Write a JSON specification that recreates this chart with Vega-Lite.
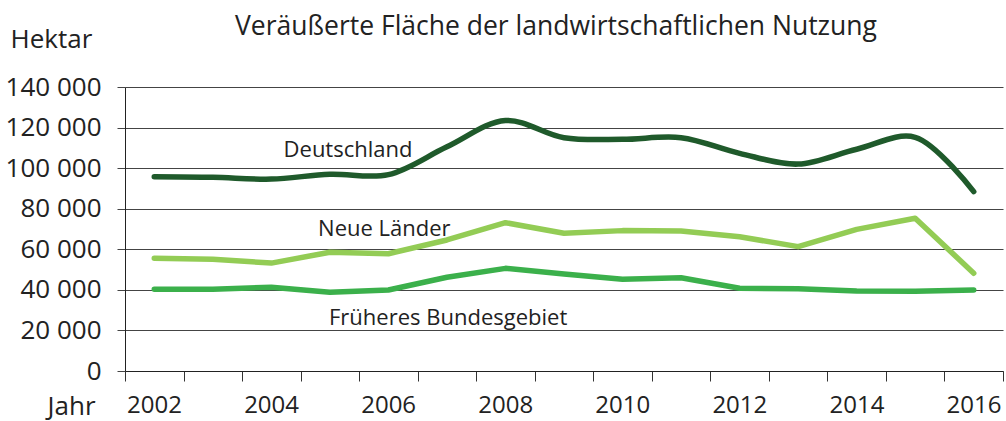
{
  "$schema": "https://vega.github.io/schema/vega-lite/v6.json",
  "width": 878,
  "height": 284,
  "autosize": {"type": "none"},
  "padding": {"left": 125, "top": 87, "right": 3, "bottom": 50},
  "background": "white",
  "config": {"view": {"stroke": null}, "font": "Open Sans"},
  "title": {
    "text": "Veräußerte Fläche der landwirtschaftlichen Nutzung",
    "anchor": "middle",
    "font": "Open Sans",
    "fontSize": 26.5,
    "fontWeight": "normal",
    "color": "#222222",
    "offset": -14,
    "dx": -8
  },
  "datasets": {
    "main": [
      {"year": 2002, "series": "Deutschland", "value": 95800},
      {"year": 2003, "series": "Deutschland", "value": 95500},
      {"year": 2004, "series": "Deutschland", "value": 94600},
      {"year": 2005, "series": "Deutschland", "value": 97000},
      {"year": 2006, "series": "Deutschland", "value": 96800},
      {"year": 2007, "series": "Deutschland", "value": 110500},
      {"year": 2008, "series": "Deutschland", "value": 123500},
      {"year": 2009, "series": "Deutschland", "value": 115000},
      {"year": 2010, "series": "Deutschland", "value": 114200},
      {"year": 2011, "series": "Deutschland", "value": 115000},
      {"year": 2012, "series": "Deutschland", "value": 107300},
      {"year": 2013, "series": "Deutschland", "value": 102000},
      {"year": 2014, "series": "Deutschland", "value": 109300},
      {"year": 2015, "series": "Deutschland", "value": 115200},
      {"year": 2016, "series": "Deutschland", "value": 88400},
      {"year": 2002, "series": "Neue Länder", "value": 55600},
      {"year": 2003, "series": "Neue Länder", "value": 55100},
      {"year": 2004, "series": "Neue Länder", "value": 53200},
      {"year": 2005, "series": "Neue Länder", "value": 58500},
      {"year": 2006, "series": "Neue Länder", "value": 57800},
      {"year": 2007, "series": "Neue Länder", "value": 64600},
      {"year": 2008, "series": "Neue Länder", "value": 73100},
      {"year": 2009, "series": "Neue Länder", "value": 67900},
      {"year": 2010, "series": "Neue Länder", "value": 69200},
      {"year": 2011, "series": "Neue Länder", "value": 69000},
      {"year": 2012, "series": "Neue Länder", "value": 66200},
      {"year": 2013, "series": "Neue Länder", "value": 61300},
      {"year": 2014, "series": "Neue Länder", "value": 69800},
      {"year": 2015, "series": "Neue Länder", "value": 75300},
      {"year": 2016, "series": "Neue Länder", "value": 48200},
      {"year": 2002, "series": "Früheres Bundesgebiet", "value": 40300},
      {"year": 2003, "series": "Früheres Bundesgebiet", "value": 40300},
      {"year": 2004, "series": "Früheres Bundesgebiet", "value": 41300},
      {"year": 2005, "series": "Früheres Bundesgebiet", "value": 38800},
      {"year": 2006, "series": "Früheres Bundesgebiet", "value": 39900},
      {"year": 2007, "series": "Früheres Bundesgebiet", "value": 46200},
      {"year": 2008, "series": "Früheres Bundesgebiet", "value": 50600},
      {"year": 2009, "series": "Früheres Bundesgebiet", "value": 47800},
      {"year": 2010, "series": "Früheres Bundesgebiet", "value": 45200},
      {"year": 2011, "series": "Früheres Bundesgebiet", "value": 46000},
      {"year": 2012, "series": "Früheres Bundesgebiet", "value": 40800},
      {"year": 2013, "series": "Früheres Bundesgebiet", "value": 40600},
      {"year": 2014, "series": "Früheres Bundesgebiet", "value": 39400},
      {"year": 2015, "series": "Früheres Bundesgebiet", "value": 39300},
      {"year": 2016, "series": "Früheres Bundesgebiet", "value": 39900}
    ],
    "labels": [
      {"label": "Deutschland", "year": 2005.31, "value": 108900},
      {"label": "Neue Länder", "year": 2005.93, "value": 70000},
      {"label": "Früheres Bundesgebiet", "year": 2007.02, "value": 26100}
    ]
  },
  "encoding": {
    "x": {
      "field": "year",
      "type": "quantitative",
      "scale": {"domain": [2001.5, 2016.5], "nice": false, "zero": false},
      "axis": {
        "values": [2001.5, 2002.5, 2003.5, 2004.5, 2005.5, 2006.5, 2007.5, 2008.5, 2009.5, 2010.5, 2011.5, 2012.5, 2013.5, 2014.5, 2015.5, 2016.5],
        "labelExpr": "(datum.value + 0.5) % 2 == 0 ? format(datum.value + 0.5, 'd') : ''",
        "labelOffset": 29,
        "labelFlush": false,
        "labelOverlap": false,
        "labelFont": "Open Sans",
        "labelFontSize": 24,
        "labelColor": "#222222",
        "labelPadding": 12,
        "tickSize": 10,
        "tickColor": "#333333",
        "domainColor": "#222222",
        "grid": false,
        "title": "Jahr",
        "titleFont": "Open Sans",
        "titleFontSize": 26,
        "titleFontWeight": "normal",
        "titleColor": "#222222",
        "titleAlign": "left",
        "titleBaseline": "alphabetic",
        "titleAnchor": "start",
        "titleX": -78,
        "titleY": 43
      }
    },
    "y": {
      "field": "value",
      "type": "quantitative",
      "scale": {"domain": [0, 140000], "nice": false},
      "axis": {
        "values": [0, 20000, 40000, 60000, 80000, 100000, 120000, 140000],
        "labelExpr": "replace(format(datum.value, ','), ',', ' ')",
        "labelFont": "Open Sans",
        "labelFontSize": 26,
        "labelColor": "#222222",
        "labelPadding": 16,
        "tickSize": 8,
        "tickColor": "#444444",
        "domainColor": "#222222",
        "grid": true,
        "gridColor": "#444444",
        "gridWidth": 1.2,
        "title": "Hektar",
        "titleFont": "Open Sans",
        "titleFontSize": 26,
        "titleFontWeight": "normal",
        "titleColor": "#222222",
        "titleAngle": 0,
        "titleAlign": "left",
        "titleBaseline": "alphabetic",
        "titleAnchor": "start",
        "titleX": -115,
        "titleY": -40
      }
    }
  },
  "layer": [
    {
      "data": {"name": "main"},
      "transform": [{"filter": "datum.series == 'Deutschland'"}],
      "mark": {"type": "line", "interpolate": "catmull-rom", "strokeWidth": 5.5, "strokeCap": "round", "strokeJoin": "round"},
      "encoding": {
        "color": {"field": "series", "type": "nominal", "scale": {"domain": ["Deutschland", "Neue Länder", "Früheres Bundesgebiet"], "range": ["#1f5a2b", "#93cc55", "#3bb04b"]}, "legend": null}
      }
    },
    {
      "data": {"name": "main"},
      "transform": [{"filter": "datum.series != 'Deutschland'"}],
      "mark": {"type": "line", "interpolate": "linear", "strokeWidth": 5.5, "strokeCap": "round", "strokeJoin": "round"},
      "encoding": {
        "color": {"field": "series", "type": "nominal", "scale": {"domain": ["Deutschland", "Neue Länder", "Früheres Bundesgebiet"], "range": ["#1f5a2b", "#93cc55", "#3bb04b"]}, "legend": null}
      }
    },
    {
      "data": {"name": "labels"},
      "mark": {"type": "text", "font": "Open Sans", "fontSize": 22, "color": "#222222", "align": "center", "baseline": "middle"},
      "encoding": {"text": {"field": "label"}}
    }
  ]
}
